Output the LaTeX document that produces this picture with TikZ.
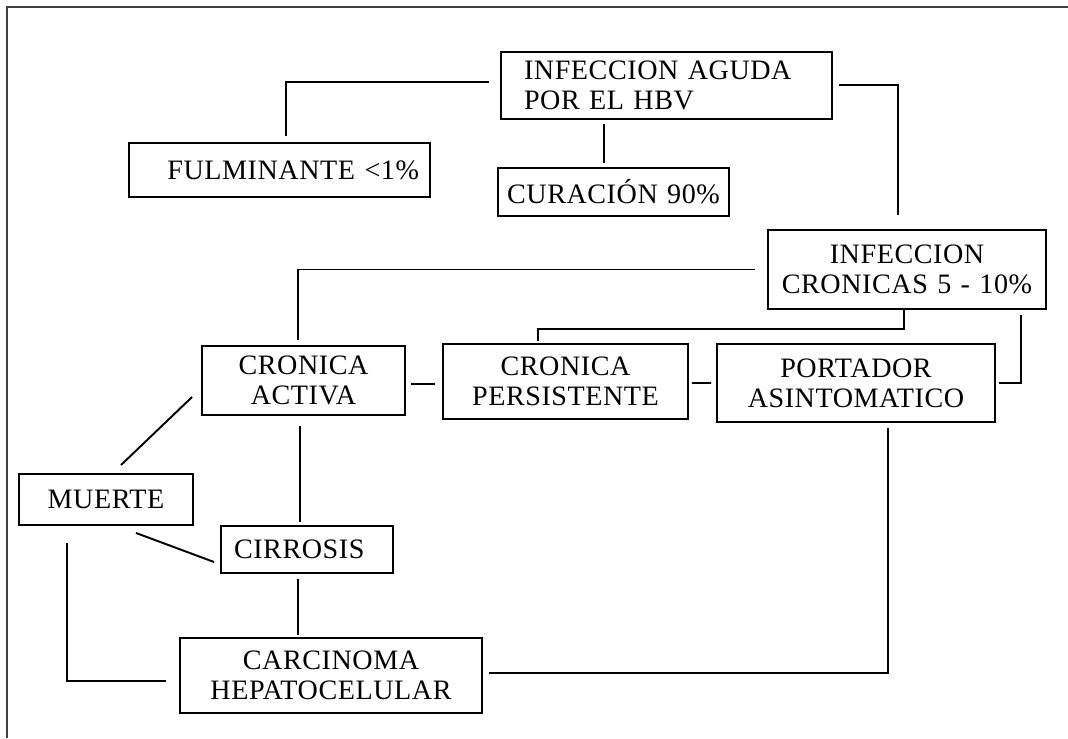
\documentclass[tikz,border=0pt]{standalone}
\usepackage{fontspec}
\setmainfont{Liberation Serif}[LetterSpace=2]
\usetikzlibrary{calc}

\begin{document}
\begin{tikzpicture}[x=0.02cm, y=-0.02cm, line width=1.1pt,
	box/.style={draw, rectangle, inner sep=0pt, align=center, font=\fontsize{16}{17}\selectfont}]
	\useasboundingbox (0,0) rectangle (1068,738);
	\draw[black!75, line width=1.4pt] (1068,7) -- (7,7) -- (7,738);

	\node[box, text width=5.70cm, inner xsep=0.46cm, minimum height=1.34cm, align=left] (aguda) at (666.5,85.5) {INFECCION AGUDA\\POR EL HBV};
	\node[box, text width=5.58cm, inner xsep=0.22cm, minimum height=1.08cm, align=right] (fulm) at (279.5,170) {FULMINANTE <1\%};
	\node[box, text width=4.62cm, minimum height=0.96cm] (cura) at (613.5,192) {CURACIÓN 90\%};
	\node[box, text width=5.56cm, minimum height=1.58cm] (cron) at (907,269.5) {INFECCION\\CRONICAS 5 - 10\%};
	\node[box, text width=4.06cm, minimum height=1.38cm] (activa) at (303.5,380.5) {CRONICA\\ACTIVA};
	\node[box, text width=4.90cm, minimum height=1.50cm] (persis) at (565.5,381.5) {CRONICA\\PERSISTENTE};
	\node[box, text width=5.56cm, minimum height=1.56cm] (portador) at (856,383) {PORTADOR\\ASINTOMATICO};
	\node[box, text width=3.48cm, minimum height=1.02cm] (muerte) at (106,499.5) {MUERTE};
	\node[box, text width=2.92cm, inner xsep=0.26cm, minimum height=0.94cm, align=left] (cirrosis) at (307,549.5) {CIRROSIS};
	\node[box, text width=6.04cm, minimum height=1.50cm] (carcinoma) at (331,675.5) {CARCINOMA\\HEPATOCELULAR};

	\draw ($(aguda.west)+(-11,-3.5)$) -| ($(fulm.north)+(6.5,-6)$);
	\draw ($(aguda.south)+(-62.5,4)$) -- ($(cura.north)+(-9.5,-4)$);
	\draw ($(aguda.east)+(6,-0.5)$) -| ($(cron.north)+(-9,-14)$);
	\draw ($(cron.west)+(-12,0)$) -| ($(activa.north)+(-5.5,-5)$);
	\draw ($(cron.south)+(-3,0)$) -- ($(cron.south)+(-3,19)$) -| ($(persis.north)+(-27.5,-2)$);
	\draw ($(cron.south east)+(-26,5)$) |- ($(portador.east)+(3,0)$);
	\draw ($(activa.east)+(5,3.5)$) -- ($(persis.west)+(-7,2.5)$);
	\draw ($(persis.east)+(3,1.5)$) -- ($(portador.west)+(-5,0)$);
	\draw ($(activa.west)+(-9,16.5)$) -- ($(muerte.north)+(15,-8)$);
	\draw ($(activa.south)+(-3.5,10)$) -- ($(cirrosis.north)+(-7,-3)$);
	\draw ($(muerte.south)+(30,7)$) -- ($(cirrosis.west)+(-6,12.5)$);
	\draw ($(cirrosis.south)+(-9,5)$) -- ($(carcinoma.north)+(-33,-2)$);
	\draw ($(muerte.south)+(-39,17)$) |- ($(carcinoma.west)+(-13,5.5)$);
	\draw ($(portador.south)+(32,5)$) |- ($(carcinoma.east)+(6,-2.5)$);
\end{tikzpicture}
\end{document}
